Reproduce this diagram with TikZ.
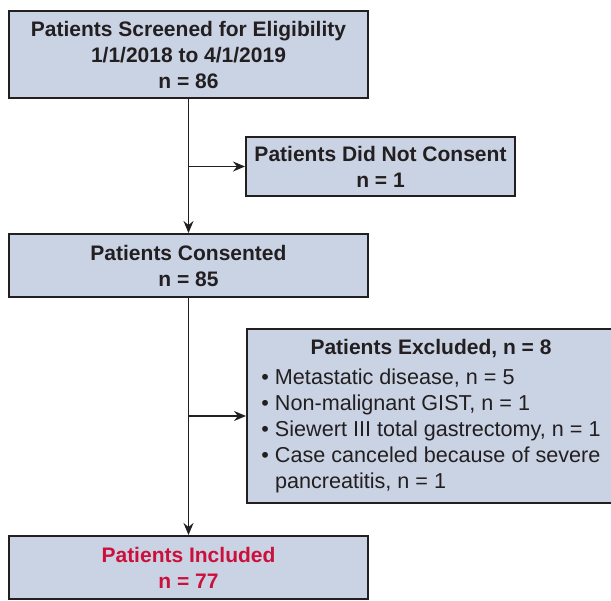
\documentclass[tikz,border=0pt]{standalone}
\usepackage{fontspec}
\setmainfont{Liberation Sans}
\usetikzlibrary{arrows.meta,positioning}
\definecolor{boxfill}{RGB}{201,211,228}
\definecolor{inclred}{RGB}{204,16,60}
\definecolor{inkgray}{RGB}{35,31,32}
\tikzset{
  flowbox/.style={draw=inkgray, line width=2pt, fill=boxfill, inner sep=0pt,
    align=center, text=inkgray, font=\fontsize{21}{26}\selectfont\bfseries},
  flowarrow/.style={draw=inkgray, line width=1.8pt, -{Stealth[length=12pt,width=10pt]}}
}

\begin{document}
\begin{tikzpicture}[x=1pt,y=-1pt]
		%%%%% FRAME %%%%%
		\useasboundingbox (0,0) rectangle (611,601);
		
		%%%%% BOXES %%%%%
		\node[flowbox, minimum width=359pt, minimum height=87pt] (screened) at (188.5,54.5)
			{Patients Screened for Eligibility\\1/1/2018 to 4/1/2019\\n = 86};
		\node[flowbox, minimum width=269pt, minimum height=59pt] (notconsent) at (380.5,166.5)
			{Patients Did Not Consent\\n = 1};
		\node[flowbox, minimum width=359pt, minimum height=63pt] (consented) at (188.5,265.5)
			{Patients Consented\\n = 85};
		\node[flowbox, minimum width=368pt, minimum height=174pt, font=\fontsize{21.6}{26}\selectfont] (excluded) at (431,416)
			{\begin{tabular}{@{}l@{ }l@{}}
				\multicolumn{2}{@{}c@{}}{\fontsize{21}{26}\selectfont\bfseries Patients Excluded, n = 8}\\[4pt]
				\textbullet & Metastatic disease, n = 5\\
				\textbullet & Non-malignant GIST, n = 1\\
				\textbullet & Siewert III total gastrectomy, n = 1\\
				\textbullet & Case canceled because of severe\\
				 & pancreatitis, n = 1
			\end{tabular}};
		\node[flowbox, minimum width=359pt, minimum height=63pt, text=inclred] (included) at (188.5,567.5)
			{Patients Included\\n = 77};
		
		%%%%% ARROWS %%%%%
		\draw[flowarrow] (screened) -- (consented);
		\draw[flowarrow] (screened.south |- notconsent.west) -- (notconsent.west);
		\draw[flowarrow] (consented) -- (included);
		\draw[flowarrow] (consented.south |- excluded.west) -- (excluded.west);
		%%%%% END %%%%%
\end{tikzpicture}
\end{document}
